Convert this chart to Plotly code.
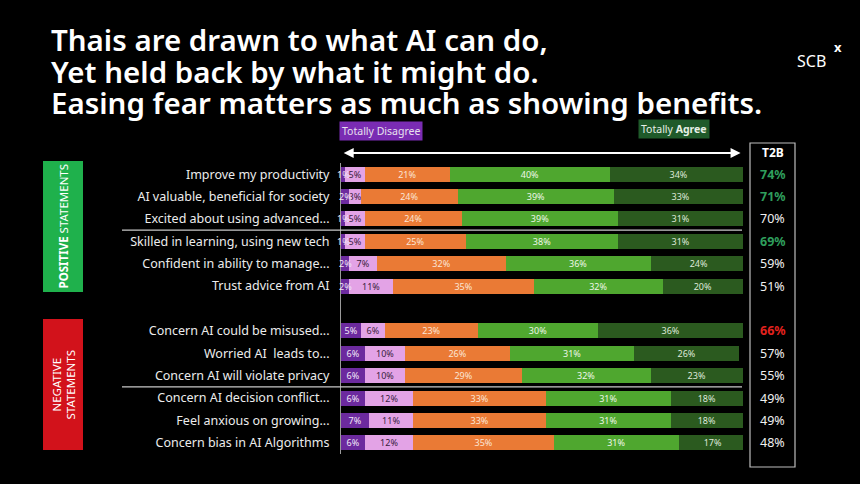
import plotly.graph_objects as go

# Statements (top to bottom), split in two groups
positive_statements = [
    "Improve my productivity",
    "AI valuable, beneficial for society",
    "Excited about using advanced...",
    "Skilled in learning, using new tech",
    "Confident in ability to manage...",
    "Trust advice from AI",
]
negative_statements = [
    "Concern AI could be misused...",
    "Worried AI  leads to...",
    "Concern AI will violate privacy",
    "Concern AI decision conflict...",
    "Feel anxious on growing...",
    "Concern bias in AI Algorithms",
]

# % answers per statement (same order as above, positive then negative)
totally_disagree = [1, 2, 1, 1, 2, 2, 5, 6, 6, 6, 7, 6]
disagree = [5, 3, 5, 5, 7, 11, 6, 10, 10, 12, 11, 12]
neutral = [21, 24, 24, 25, 32, 35, 23, 26, 29, 33, 33, 35]
agree = [40, 39, 39, 38, 36, 32, 30, 31, 32, 31, 31, 31]
totally_agree = [34, 33, 31, 31, 24, 20, 36, 26, 23, 18, 18, 17]
t2b = [74, 71, 70, 69, 59, 51, 66, 57, 55, 49, 49, 48]
t2b_highlight = ["green", "green", None, "green", None, None, "red", None, None, None, None, None]

statements = positive_statements + negative_statements
# one empty row between the two groups
y_pos = list(range(len(positive_statements))) + [
    len(positive_statements) + 1 + i for i in range(len(negative_statements))
]

FONT = "Noto Sans"

# plot area in pixels (used to place the decorations)
L, R, T, B = 341, 117, 163, 30
W, H = 860, 484
pw, ph = W - L - R, H - T - B


def px_x(x):
    return (x - L) / pw


def px_y(y):
    return (H - B - y) / ph


series = [
    ("Totally Disagree", totally_disagree, "#6c2a9e", "#f2e8f8"),
    ("Disagree", disagree, "#e3a3e6", "#3a2140"),
    ("Neutral", neutral, "#ea7a35", "#fbe6d6"),
    ("Agree", agree, "#4fa72f", "#eef7e8"),
    ("Totally Agree", totally_agree, "#2b5a1f", "#dfe9da"),
]

anns = []
shapes = []

fig = go.Figure()
base = [0] * len(y_pos)
for name, vals, color, txtcol in series:
    # segments too thin for plotly's inside text get their label as an annotation
    fig.add_trace(go.Bar(
        y=y_pos,
        x=vals,
        name=name,
        orientation="h",
        marker=dict(color=color, line=dict(width=0)),
        text=[f"{v}%" if v >= 3 else "" for v in vals],
        textposition="inside",
        insidetextanchor="middle",
        textangle=0,
        constraintext="none",
        textfont=dict(color=txtcol, size=9, family=FONT),
        hoverinfo="skip",
    ))
    for i, v in enumerate(vals):
        if v < 3:
            anns.append(dict(text=f"{v}%", xref="x", yref="y", x=base[i] + v / 2, y=y_pos[i],
                             xanchor="center", yanchor="middle", showarrow=False,
                             font=dict(size=9, color=txtcol, family=FONT)))
        base[i] += v

fig.update_layout(
    barmode="stack",
    bargap=0.33,
    width=W,
    height=H,
    margin=dict(l=L, r=R, t=T, b=B),
    paper_bgcolor="#000000",
    plot_bgcolor="#000000",
    showlegend=False,
    uniformtext=dict(minsize=9, mode="show"),
    font=dict(family=FONT, color="#ffffff"),
)
fig.update_xaxes(range=[0, 100], visible=False)
fig.update_yaxes(
    tickvals=y_pos,
    ticktext=statements,
    range=[12.5, -0.5],
    showgrid=False,
    zeroline=False,
    showline=True,
    linecolor="#9a9a9a",
    linewidth=1,
    ticks="",
    ticklabelstandoff=8,
    tickfont=dict(size=12.5, color="#ececec", family=FONT),
)


def label(text, x, y, size, color="#ffffff", yref="paper", **kw):
    d = dict(text=text, xref="paper", yref=yref, x=x, y=y,
             xanchor="center", yanchor="middle", showarrow=False,
             font=dict(size=size, color=color, family=FONT))
    d.update(kw)
    anns.append(d)


# title
title_lines = [
    "Thais are drawn to what AI can do,",
    "Yet held back by what it might do.",
    "Easing fear matters as much as showing benefits.",
]
for i, line in enumerate(title_lines):
    anns.append(dict(
        text=line, xref="paper", yref="paper", x=px_x(49), y=px_y(40 + 31 * i),
        xanchor="left", yanchor="middle", showarrow=False,
        font=dict(size=29.5, color="#ffffff", family=FONT, weight=600),
    ))

# logo
label("SCB", px_x(811), px_y(61), 16)
label("<b>x</b>", px_x(838), px_y(47), 13)

# scale labels
label("Totally Disagree", px_x(380.5), px_y(130.5), 10.5, "#e8e0ee",
      bgcolor="#7a2cb3", borderpad=2)
label("Totally <b>Agree</b>", px_x(673.5), px_y(129), 10.5, "#e6efe6",
      bgcolor="#1f5a2a", borderpad=2)

# double arrow
anns.append(dict(text="", xref="x", yref="paper", x=99.4, y=px_y(153),
                 axref="x", ax=0.3, ayref="pixel", ay=0,
                 showarrow=True, arrowhead=2, arrowside="end+start", arrowsize=1,
                 arrowwidth=2, arrowcolor="#ffffff"))

# T2B column
shapes.append(dict(type="rect", xref="paper", yref="paper",
                   x0=px_x(750), x1=px_x(795), y0=px_y(467), y1=px_y(143),
                   line=dict(color="#bdbdbd", width=1.2)))
label("<b>T2B</b>", px_x(772.5), px_y(152.5), 12)
hl_colors = {"green": "#2f9e5c", "red": "#e3221e", None: "#f0f0f0"}
for y, v, h in zip(y_pos, t2b, t2b_highlight):
    txt = f"<b>{v}%</b>" if h else f"{v}%"
    label(txt, px_x(772.5), y, 12.5, hl_colors[h], yref="y")

# separators
for ysep in [2.5, 9.5]:
    shapes.append(dict(type="line", xref="paper", yref="y",
                       x0=px_x(122), x1=px_x(742), y0=ysep, y1=ysep,
                       line=dict(color="#c8c8c8", width=1.2)))

# group boxes
shapes.append(dict(type="rect", xref="paper", yref="paper",
                   x0=px_x(43), x1=px_x(83), y0=px_y(292), y1=px_y(161),
                   fillcolor="#1fb14c", line=dict(width=0), layer="below"))
shapes.append(dict(type="rect", xref="paper", yref="paper",
                   x0=px_x(43), x1=px_x(83), y0=px_y(450), y1=px_y(319),
                   fillcolor="#d2121b", line=dict(width=0), layer="below"))
label("<b>POSITIVE</b> STATEMENTS", px_x(63), px_y(226.5), 11.5, textangle=-90)
label("NEGATIVE<br>STATEMENTS", px_x(63), px_y(384.5), 11.5, textangle=-90)

fig.update_layout(annotations=anns, shapes=shapes)

fig.write_html("out.html", config={"displayModeBar": False},
               post_script="document.body.style.margin='0';")
